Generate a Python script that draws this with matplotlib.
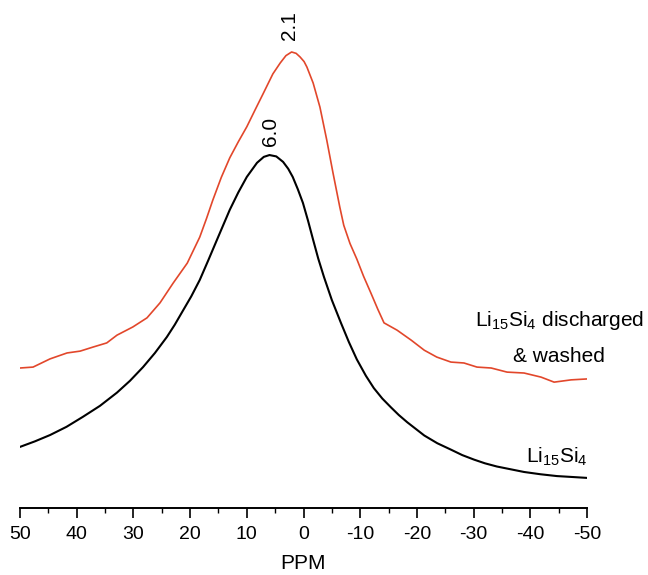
import matplotlib
matplotlib.use("Agg")
from matplotlib import pyplot as plt
from matplotlib.ticker import MultipleLocator

# Li15Si4 reference spectrum (black)
ppm_ref = [50.0, 47.4, 44.7, 41.8, 38.9, 35.9, 32.9, 30.6, 28.3, 26.2, 24.1, 22.7,
           21.3, 19.8, 18.3, 16.8, 15.3, 14.1, 13.0, 11.5, 10.0, 8.2, 7.0, 6.0,
           4.8, 3.6, 2.7, 1.9, 1.0, 0.1, -0.8, -1.7, -2.6, -3.6, -5.0, -6.6, -8.0,
           -9.4, -11.0, -12.4, -13.9, -15.4, -16.8, -18.3, -21.3, -23.6, -26.0,
           -28.0, -30.1, -32.0, -34.1, -36.5, -38.9, -41.8, -44.7, -47.4, -50.0]
int_ref = [13.4, 14.6, 16.0, 17.8, 20.0, 22.4, 25.3, 27.9, 30.9, 34.0, 37.5, 40.2,
           43.2, 46.4, 50.0, 54.3, 58.7, 62.2, 65.4, 69.2, 72.6, 75.7, 77.0, 77.4,
           77.1, 75.9, 74.4, 72.6, 69.9, 66.9, 63.0, 58.8, 54.7, 50.7, 45.6, 40.6, 36.4,
           32.6, 29.0, 26.3, 24.0, 22.1, 20.4, 18.8, 15.9, 14.2, 12.8,
           11.6, 10.6, 9.8, 9.1, 8.5, 7.9, 7.4, 7.0, 6.8, 6.6]

# discharged & washed (red)
ppm_dw = [50.0, 47.7, 44.7, 41.7, 39.4, 37.1, 34.7, 32.9, 30.1, 27.6, 25.3, 23.0,
          20.5, 18.3, 17.1, 16.0, 14.5, 13.0, 11.5, 10.0, 8.5, 7.1, 5.4, 4.1, 3.1,
          2.1, 1.3, 0.6, -0.1, -0.6, -1.7, -2.9, -4.1, -5.2, -6.4, -7.1, -8.2,
          -9.4, -10.6, -11.9, -13.1, -14.2, -16.5, -19.0, -21.3, -23.5, -26.0,
          -28.3, -30.6, -33.1, -35.9, -38.9, -41.9, -44.2, -47.2, -50.0]
int_dw = [30.7, 30.9, 32.7, 34.0, 34.4, 35.3, 36.2, 37.9, 39.7, 41.7, 45.0, 49.3,
          53.7, 59.4, 63.5, 67.5, 72.5, 76.8, 80.3, 83.6, 87.4, 90.9, 95.2, 97.6, 99.2,
          100.0, 99.7, 98.9, 97.9, 96.7, 93.2, 87.9, 80.7, 73.5, 66.0, 62.0, 58.0,
          54.6, 50.8, 47.1, 43.6, 40.6, 39.0, 36.8, 34.6, 33.1, 32.0,
          31.8, 30.9, 30.7, 29.8, 29.6, 28.7, 27.6, 28.1, 28.3]

plt.rcParams['font.family'] = ['Liberation Sans', 'DejaVu Sans']
plt.rcParams['mathtext.fontset'] = 'custom'
plt.rcParams['mathtext.rm'] = 'Liberation Sans'
plt.rcParams['mathtext.it'] = 'Liberation Sans:italic'
plt.rcParams['axes.unicode_minus'] = False

fig = plt.figure(figsize=(6.48, 5.75), dpi=100)
ax = fig.add_axes([20 / 648, 67 / 575, 567 / 648, 508 / 575])

ax.plot(ppm_ref, int_ref, color='black', lw=1.5)
ax.plot(ppm_dw, int_dw, color='#e2472b', lw=1.2)

ax.set_xlim(50, -50)
ax.set_ylim(0, 111.4)

# peak positions
ax.text(2.4, 105.9, "2.1", rotation=90, ha='center', va='center', fontsize=15)
ax.text(5.9, 82.5, "6.0", rotation=90, ha='center', va='center', fontsize=15)

ax.text(-45.2, 39.9, r"Li$_{15}$Si$_{4}$ discharged", ha='center', va='baseline',
        fontsize=15, clip_on=False)
ax.text(-45.0, 32.0, "& washed", ha='center', va='baseline', fontsize=15)
ax.text(-44.7, 9.9, r"Li$_{15}$Si$_{4}$", ha='center', va='baseline', fontsize=15)

for s in ['top', 'left', 'right']:
    ax.spines[s].set_visible(False)
ax.spines['bottom'].set_linewidth(1.4)
ax.set_yticks([])
ax.xaxis.set_major_locator(MultipleLocator(10))
ax.xaxis.set_minor_locator(MultipleLocator(5))
ax.tick_params(axis='x', which='major', length=7, width=1.2, labelsize=14, pad=6)
ax.tick_params(axis='x', which='minor', length=3.5, width=1.0)
ax.set_xlabel("PPM", fontsize=15, labelpad=8)

fig.savefig("out.png", dpi=100)
